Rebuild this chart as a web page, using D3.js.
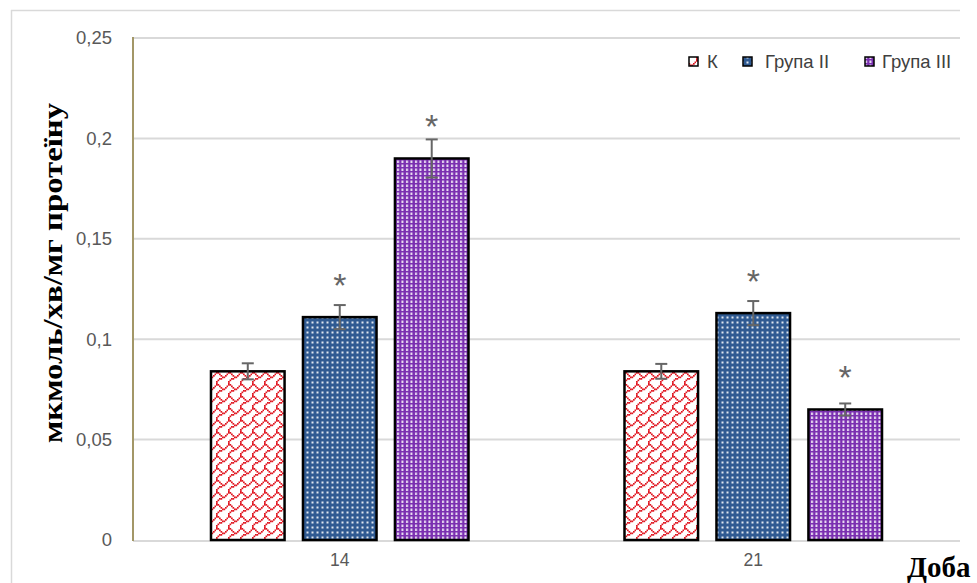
<!DOCTYPE html>
<html>
<head>
<meta charset="utf-8">
<script src="https://cdn.jsdelivr.net/npm/d3@7"></script>
<style>
  html, body { margin: 0; padding: 0; background: #fff; }
  svg { display: block; }
</style>
</head>
<body>
<svg id="chart" width="977" height="583"></svg>
<script>
// Activity by day and group
const days = ["14", "21"];
const groups = ["К", "Група II", "Група III"];
const valuesK = [0.084, 0.084];
const valuesII = [0.111, 0.113];
const valuesIII = [0.190, 0.065];
const errK = [0.004, 0.0037];
const errII = [0.006, 0.006];
const errIII = [0.0095, 0.003];
const significant = [[false, true, true], [false, true, true]];
const yTicks = [0, 0.05, 0.1, 0.15, 0.2, 0.25];
const yTickLabels = ["0", "0,05", "0,1", "0,15", "0,2", "0,25"];

const series = [valuesK, valuesII, valuesIII];
const errors = [errK, errII, errIII];

const svg = d3.select("#chart");
const defs = svg.append("defs");

// Red shingle hatch on white
(function () {
  const p = defs.append("pattern").attr("id", "pat0")
    .attr("patternUnits", "userSpaceOnUse").attr("width", 12).attr("height", 12);
  p.append("rect").attr("width", 12).attr("height", 12).attr("fill", "#fff");
  const bits = [0xc0, 0x21, 0x12, 0x0c, 0x30, 0x40, 0x80, 0x80];
  bits.forEach((b, r) => {
    for (let c = 0; c < 8; c++) {
      if (b & (0x80 >> c)) {
        p.append("rect").attr("x", c * 1.5).attr("y", r * 1.5)
          .attr("width", 1.7).attr("height", 1.7).attr("fill", "#e0141e");
      }
    }
  });
})();

// Blue with white dots
(function () {
  const p = defs.append("pattern").attr("id", "pat1")
    .attr("patternUnits", "userSpaceOnUse").attr("width", 5).attr("height", 5);
  p.append("rect").attr("width", 5).attr("height", 5).attr("fill", "#2f5a92");
  p.append("rect").attr("x", 1.5).attr("y", 1.5).attr("width", 2).attr("height", 2)
    .attr("fill", "#ffffff").attr("opacity", 0.85);
})();

// Purple with white dashed columns
(function () {
  const p = defs.append("pattern").attr("id", "pat2")
    .attr("patternUnits", "userSpaceOnUse").attr("width", 4.5).attr("height", 4);
  p.append("rect").attr("width", 4.5).attr("height", 4).attr("fill", "#7a2fb0");
  p.append("rect").attr("x", 1).attr("y", 0.5).attr("width", 2).attr("height", 2.5)
    .attr("fill", "#ffffff").attr("opacity", 0.85);
})();

// Outer frame
svg.append("line").attr("x1", 11).attr("x2", 960).attr("y1", 10.5).attr("y2", 10.5)
  .attr("stroke", "#d9d9d9").attr("stroke-width", 1.5);
svg.append("line").attr("x1", 11.5).attr("x2", 11.5).attr("y1", 10).attr("y2", 583)
  .attr("stroke", "#d9d9d9").attr("stroke-width", 1.5);

const plot = { left: 133, right: 960, top: 38, bottom: 540 };

const y = d3.scaleLinear().domain([0, 0.25]).range([plot.bottom, plot.top]);
const x0 = d3.scaleBand().domain(days).range([plot.left, plot.right]).padding(0);
const x1 = d3.scaleBand().domain(d3.range(groups.length))
  .range([0, x0.bandwidth()]).paddingInner(0.2).paddingOuter(0.848);

// Gridlines
svg.append("g").selectAll("line").data(yTicks.filter(d => d > 0)).join("line")
  .attr("x1", plot.left).attr("x2", plot.right)
  .attr("y1", d => y(d)).attr("y2", d => y(d))
  .attr("stroke", "#d9d9d9").attr("stroke-width", 2);

// Y axis tick labels
const yAxis = d3.axisLeft(y).tickValues(yTicks)
  .tickFormat((d, i) => yTickLabels[i]).tickSize(0).tickPadding(21);
const gy = svg.append("g").attr("transform", `translate(${plot.left},0)`).call(yAxis);
gy.select(".domain").remove();
gy.selectAll("text").attr("font-family", "Liberation Sans, Arial, sans-serif")
  .attr("font-size", 18.5).attr("fill", "#595959");

// X axis labels + baseline
const xAxis = d3.axisBottom(x0).tickSize(0).tickPadding(14);
const gx = svg.append("g").attr("transform", `translate(0,${plot.bottom})`).call(xAxis);
gx.select(".domain").remove();
gx.selectAll("text").attr("font-family", "Liberation Sans, Arial, sans-serif")
  .attr("font-size", 17.5).attr("fill", "#595959");
svg.append("line").attr("x1", plot.left).attr("x2", plot.right)
  .attr("y1", plot.bottom + 1).attr("y2", plot.bottom + 1)
  .attr("stroke", "#d9d9d9").attr("stroke-width", 2);

// Vertical axis line
svg.append("line").attr("x1", plot.left).attr("x2", plot.left)
  .attr("y1", plot.top - 1).attr("y2", plot.bottom + 1)
  .attr("stroke", "#a39767").attr("stroke-width", 2);

// Bars
const cells = [];
days.forEach((day, di) => {
  series.forEach((vals, gi) => {
    cells.push({ day, gi, v: vals[di], e: errors[gi][di], sig: significant[di][gi] });
  });
});

const bars = svg.append("g");
bars.selectAll("rect").data(cells).join("rect")
  .attr("x", d => x0(d.day) + x1(d.gi))
  .attr("y", d => y(d.v))
  .attr("width", x1.bandwidth())
  .attr("height", d => y(0) - y(d.v))
  .attr("fill", d => `url(#pat${d.gi})`)
  .attr("stroke", "#000").attr("stroke-width", 2.5);

// Error bars
const eb = svg.append("g").attr("stroke", "#666666").attr("stroke-width", 2);
cells.forEach(d => {
  const cx = x0(d.day) + x1(d.gi) + x1.bandwidth() / 2;
  const cap = 6;
  eb.append("line").attr("x1", cx).attr("x2", cx).attr("y1", y(d.v + d.e)).attr("y2", y(d.v - d.e));
  eb.append("line").attr("x1", cx - cap).attr("x2", cx + cap).attr("y1", y(d.v + d.e)).attr("y2", y(d.v + d.e));
  eb.append("line").attr("x1", cx - cap).attr("x2", cx + cap).attr("y1", y(d.v - d.e)).attr("y2", y(d.v - d.e));
});

// Significance marks, placed a fixed distance above the bar top
svg.append("g").selectAll("text").data(cells.filter(d => d.sig)).join("text")
  .attr("x", d => x0(d.day) + x1(d.gi) + x1.bandwidth() / 2)
  .attr("y", d => y(d.v) - 20)
  .attr("text-anchor", "middle")
  .attr("font-family", "Liberation Sans, Arial, sans-serif")
  .attr("font-size", 34).attr("fill", "#666666")
  .text("*");

// Legend
const legendX = [689, 743, 865];
const legendTextX = [707, 765, 882];
const lg = svg.append("g");
groups.forEach((g, i) => {
  lg.append("rect").attr("x", legendX[i]).attr("y", 57).attr("width", 9).attr("height", 9)
    .attr("fill", `url(#pat${i})`).attr("stroke", "#000").attr("stroke-width", 1.5);
  lg.append("text").attr("x", legendTextX[i]).attr("y", 68)
    .attr("font-family", "Liberation Sans, Arial, sans-serif")
    .attr("font-size", 18.5).attr("fill", "#404040").text(g);
});

// Axis titles
svg.append("text")
  .attr("transform", "translate(62,273) rotate(-90)")
  .attr("text-anchor", "middle")
  .attr("font-family", "Liberation Serif, Times New Roman, serif")
  .attr("font-weight", "bold").attr("font-size", 28)
  .attr("textLength", 340).attr("lengthAdjust", "spacingAndGlyphs")
  .text("мкмоль/хв/мг протеїну");

svg.append("text")
  .attr("x", 907).attr("y", 577)
  .attr("font-family", "Liberation Serif, Times New Roman, serif")
  .attr("font-weight", "bold").attr("font-size", 29)
  .text("Доба");
</script>
</body>
</html>
